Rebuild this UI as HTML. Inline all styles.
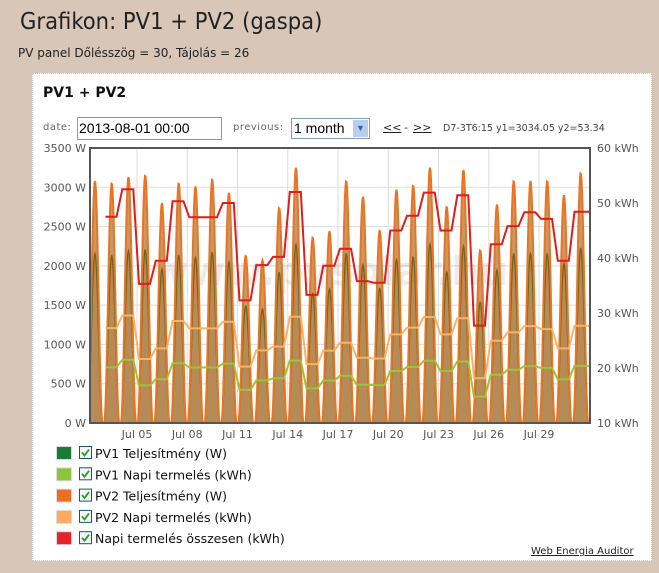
<!DOCTYPE html>
<html><head><meta charset="utf-8">
<style>
body{margin:0;width:659px;height:573px;background:#d8c7b8;font-family:"DejaVu Sans","Liberation Sans",sans-serif;position:relative;overflow:hidden}
.a{position:absolute;white-space:nowrap}
</style></head><body>
<div class="a" style="left:20px;top:7px;font-size:23.5px;color:#222;font-family:'DejaVu Sans Condensed','DejaVu Sans',sans-serif">Grafikon: PV1 + PV2 (gaspa)</div>
<div class="a" style="left:18px;top:46px;font-size:12px;color:#222">PV panel Dőlésszög = 30, Tájolás = 26</div>
<div class="a" style="left:32px;top:73px;width:618px;height:486px;background:#fff;border:1px dotted #ccc"></div>
<div class="a" style="left:43px;top:85px;font-size:14px;font-weight:bold;color:#111">PV1 + PV2</div>
<div class="a" style="left:43px;top:122px;font-size:10px;color:#666;letter-spacing:.5px">date:</div>
<div class="a" style="left:77px;top:117px;width:142px;height:21px;border:1px solid #7f9db9;font-family:'Liberation Sans',sans-serif;font-size:14px;line-height:21px;padding-left:1px">2013-08-01 00:00</div>
<div class="a" style="left:233px;top:122px;font-size:10px;color:#666;letter-spacing:.5px">previous:</div>
<div class="a" style="left:291px;top:118px;width:75px;height:19px;border:1px solid #7f9db9;font-family:'Liberation Sans',sans-serif;font-size:14px;line-height:19px;padding-left:2px">1 month<span style="position:absolute;right:1px;top:1px;width:15px;height:17px;background:#b8cdf0;color:#4d6185;font-size:9px;text-align:center;line-height:17px">▼</span></div>
<div class="a" style="left:383px;top:121px;font-size:11px;color:#222;text-decoration:underline">&lt;&lt;</div>
<div class="a" style="left:404px;top:121px;font-size:11px;color:#222">-</div>
<div class="a" style="left:413px;top:121px;font-size:11px;color:#222;text-decoration:underline">&gt;&gt;</div>
<div class="a" style="left:443px;top:123px;font-size:9.5px;color:#444">D7-3T6:15 y1=3034.05 y2=53.34</div>
<svg class="a" style="left:0;top:0" width="659" height="573" id="s" font-family="DejaVu Sans,sans-serif"></svg>
<div class="a" style="left:531px;top:546px;font-size:10px;color:#222;text-decoration:underline">Web Energia Auditor</div>
<script>
var s=document.getElementById('s'),h='';
var L=90,R=590,T=148,B=423;
function X(d){return 137+(d-5)*16.75;}
function YW(w){return B-w*(B-T)/3500;}
function YK(k){return B-(k-10)*(B-T)/50;}
for(var i=0;i<=7;i++){var y=YW(i*500);h+='<line x1="'+L+'" x2="'+R+'" y1="'+y+'" y2="'+y+'" stroke="#ddd"/>';
h+='<text x="86" y="'+(y+4)+'" font-size="11" fill="#555" text-anchor="end">'+(i*500)+' W</text>';}
for(var i=0;i<=5;i++){var y=B-i*(B-T)/5;h+='<text x="597" y="'+(y+4)+'" font-size="11" fill="#555">'+(10+i*10)+' kWh</text>';}
for(var d=5;d<=29;d+=3){var x=X(d);h+='<line x1="'+x+'" x2="'+x+'" y1="'+T+'" y2="'+B+'" stroke="#ddd"/>';
h+='<text x="'+x+'" y="438" font-size="11" fill="#555" text-anchor="middle">Jul '+(d<10?'0'+d:d)+'</text>';}
h+='<text x="330" y="285" font-size="40" fill="#000" opacity="0.07" text-anchor="middle" font-weight="bold">www.pvsolar.hu</text>';
var tot={2:50,3:47.5,4:52.5,5:35.3,6:39.5,7:50.3,8:47.4,9:47.4,10:50,11:32.3,12:38.7,13:40.2,14:52,15:33.3,16:38.6,17:41.7,18:35.8,19:35.5,20:45,21:47.7,22:51.9,23:45,24:51.4,25:27.7,26:42.5,27:45.8,28:48.3,29:47.1,30:39.5,31:48.4};
var pk={2:3080,3:3050,4:3130,5:3150,6:2800,7:3050,8:3010,9:3100,10:2930,11:2130,12:2070,13:2740,14:3250,15:2360,16:2440,17:3080,18:2880,19:2450,20:2970,21:3020,22:3250,23:2750,24:3220,25:2200,26:2780,27:3080,28:3080,29:3080,30:2900,31:3180};
var p2='',p1='';
for(var xp=L;xp<=R;xp+=0.5){var dd=(xp-137)/16.75+5;var d=Math.floor(dd),f=dd-d;var v=0;
if(f>0.04&&f<0.94){var t=(f-0.04)/0.9;v=Math.pow(Math.sin(Math.PI*t),2);}
var w2=(pk[d]||3000)*v,w1=w2*0.7;
p2+=(p2?'L':'M')+xp.toFixed(1)+','+YW(w2).toFixed(1);p1+=(p1?'L':'M')+xp.toFixed(1)+','+YW(w1).toFixed(1);}
h+='<path d="'+p2+'L'+R+','+B+'L'+L+','+B+'Z" fill="#c39a6c"/>';
h+='<path d="'+p1+'L'+R+','+B+'L'+L+','+B+'Z" fill="#a5793d" opacity="0.45"/>';
h+='<path d="'+p1+'" fill="none" stroke="#6f6420" stroke-width="1.3"/>';
h+='<path d="'+p2+'" fill="none" stroke="#ea7421" stroke-width="2"/>';
function step(fn,col){var p='';for(var d=3;d<=31;d++){var v=YK(fn(tot[d]));var x0=X(d)+2,x1=X(d)+13;
p+=(p?'L':'M')+x0.toFixed(1)+','+v.toFixed(1)+'L'+Math.min(x1,R).toFixed(1)+','+v.toFixed(1);}
p+='L'+R+','+YK(fn(tot[31])).toFixed(1);h+='<path d="'+p+'" fill="none" stroke="'+col+'" stroke-width="2"/>';}
step(function(t){return 10+(t-10)*0.27;},'#9cc43a');
step(function(t){return 10+(t-10)*0.46;},'#f7b469');
step(function(t){return t;},'#dd1e1e');
h+='<rect x="'+L+'" y="'+T+'" width="'+(R-L)+'" height="'+(B-T)+'" fill="none" stroke="#555" stroke-width="2"/>';
var lg=[['#1d7a35','PV1 Teljesítmény (W)'],['#8cc43e','PV1 Napi termelés (kWh)'],['#ec6d23','PV2 Teljesítmény (W)'],['#fbac62','PV2 Napi termelés (kWh)'],['#e52329','Napi termelés összesen (kWh)']];
for(var i=0;i<5;i++){var y=446+i*21.3;
h+='<rect x="56.5" y="'+(y+0.5)+'" width="15" height="13" fill="'+lg[i][0]+'" stroke="#ddd"/>';
h+='<rect x="79.5" y="'+(y+0.5)+'" width="12" height="12" fill="#f4f6f8" stroke="#1c5180"/>';
h+='<path d="M82,'+(y+6.5)+'l2.5,3l4.5,-6" fill="none" stroke="#21a121" stroke-width="1.8"/>';
h+='<text x="95" y="'+(y+12)+'" font-size="12.5" fill="#111">'+lg[i][1]+'</text>';}
s.innerHTML=h;
</script>
</body></html>
